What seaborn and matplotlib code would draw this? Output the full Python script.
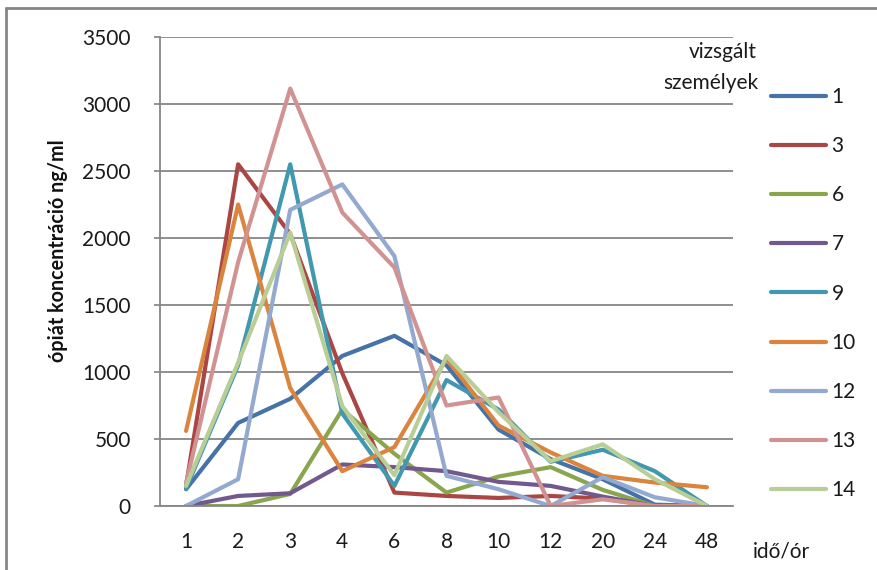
import matplotlib
matplotlib.use("Agg")
import matplotlib.pyplot as plt
import seaborn as sns
import pandas as pd
from matplotlib.lines import Line2D

hours = ["1", "2", "3", "4", "6", "8", "10", "12", "20", "24", "48"]
subjects = ["1", "3", "6", "7", "9", "10", "12", "13", "14"]

s1 = [125, 620, 800, 1120, 1270, 1050, 570, 350, 200, 10, 0]
s3 = [150, 2550, 2030, 990, 100, 75, 60, 75, 55, 0, 0]
s6 = [0, 0, 90, 720, 390, 100, 220, 290, 120, 0, 0]
s7 = [0, 75, 95, 310, 290, 260, 180, 150, 70, 0, 0]
s9 = [130, 1050, 2550, 690, 150, 940, 720, 330, 420, 260, 0]
s10 = [560, 2250, 880, 260, 440, 1100, 600, 400, 225, 175, 140]
s12 = [0, 200, 2210, 2400, 1865, 225, 125, 0, 215, 65, 0]
s13 = [170, 1820, 3115, 2190, 1780, 750, 810, 0, 50, 0, 0]
s14 = [150, 1070, 2040, 745, 230, 1120, 700, 335, 460, 200, 0]

series = [s1, s3, s6, s7, s9, s10, s12, s13, s14]
colors = ["#4572A7", "#AA4643", "#89A54E", "#71588F", "#4198AF",
          "#DB843D", "#93A9CF", "#D19392", "#B9CD96"]

rows = []
for name, vals in zip(subjects, series):
    for h, v in zip(hours, vals):
        rows.append({"ido": h, "ertek": v, "szemely": name})
df = pd.DataFrame(rows)

sns.set_theme(style="white")
plt.rcParams["font.family"] = ["Lato", "DejaVu Sans"]

FS = 15
TXT = "#1a1a1a"

fig = plt.figure(figsize=(8.77, 5.70), dpi=100)
ax = fig.add_axes([160 / 877, 1 - 506 / 570, 573 / 877, 469 / 570])

sns.lineplot(data=df, x="ido", y="ertek", hue="szemely", hue_order=subjects,
             palette=colors, linewidth=3, ax=ax, legend=False, sort=False)

ax.set_xlim(-0.5, len(hours) - 0.5)
ax.set_ylim(0, 3500)
ax.set_yticks(range(0, 3501, 500))
ax.yaxis.grid(True, color="#868686", linewidth=1.3)
ax.set_axisbelow(True)
for side in ["top", "right"]:
    ax.spines[side].set_visible(False)
for side in ["left", "bottom"]:
    ax.spines[side].set_color("#868686")
    ax.spines[side].set_linewidth(1.3)

ax.tick_params(axis="y", length=4, color="#868686", pad=17, labelsize=FS,
               labelcolor=TXT, left=True)
ax.tick_params(axis="x", length=0, pad=19, labelsize=FS, labelcolor=TXT)

ax.set_xlabel("")
ax.set_ylabel("ópiát koncentráció ng/ml", fontsize=14.2, fontweight="bold",
              color="#111111")
ax.yaxis.set_label_coords(-0.16, 0.545)

fig.text(757 / 877, 1 - 52 / 570, "vizsgált", ha="right", va="center",
         fontsize=FS, color=TXT)
fig.text(758 / 877, 1 - 83 / 570, "személyek", ha="right", va="center",
         fontsize=FS, color=TXT)
fig.text(753 / 877, 1 - 552 / 570, "idő/ór", ha="left", va="center",
         fontsize=FS, color=TXT)

handles = [Line2D([], [], color=c, linewidth=3) for c in colors]
fig.legend(handles, subjects, loc="upper left",
           bbox_to_anchor=(771 / 877, 1 - 87 / 570), frameon=False,
           handlelength=2.65, handletextpad=0.25, labelspacing=1.4,
           borderpad=0, borderaxespad=0, fontsize=FS, labelcolor=TXT)

fig.add_artist(Line2D([6 / 877, 6 / 877], [0, 1 - 8 / 570],
                      transform=fig.transFigure, color="#868686", linewidth=2))
fig.add_artist(Line2D([6 / 877, 1], [1 - 8 / 570, 1 - 8 / 570],
                      transform=fig.transFigure, color="#868686", linewidth=2))

fig.savefig("out.png", dpi=100)
